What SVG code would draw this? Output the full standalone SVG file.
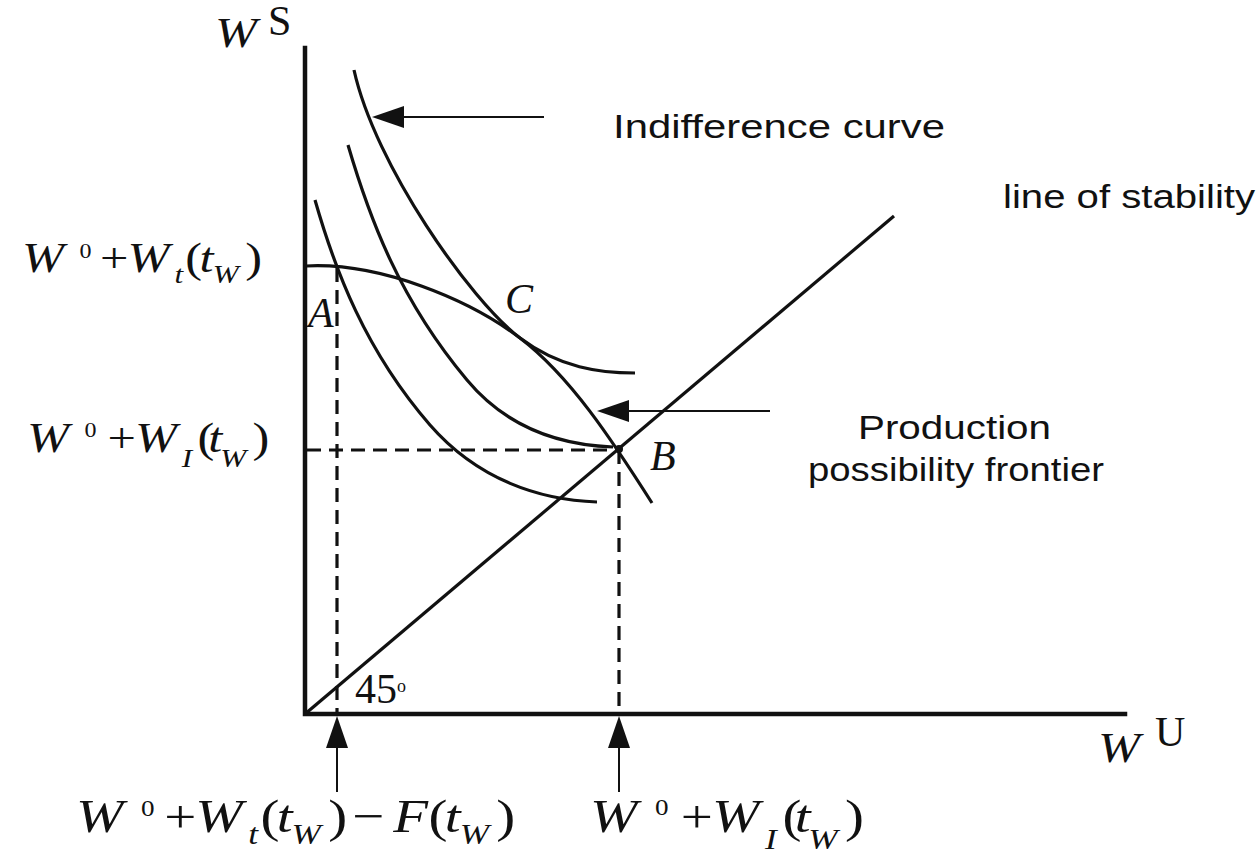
<svg xmlns="http://www.w3.org/2000/svg" width="1260" height="853" viewBox="0 0 1260 853">
<style>
.m{font-family:"Liberation Serif","Times New Roman",serif;font-size:42px;fill:#111}
.i{font-style:italic}
.sup{font-size:20px}
.sub{font-size:26px}
.s{font-family:"Liberation Sans",Arial,sans-serif;font-size:33px;fill:#111}
.ax{stroke:#111;stroke-width:4.5;fill:none;stroke-linecap:square}
.cv{stroke:#111;stroke-width:3.2;fill:none}
.ds{stroke:#111;stroke-width:3.2;fill:none;stroke-dasharray:14 8}
.ar{stroke:#111;stroke-width:2;fill:none}
</style>
<defs>
<marker id="ah" viewBox="0 0 32 22" refX="0" refY="11" markerWidth="32" markerHeight="22" markerUnits="userSpaceOnUse" orient="auto">
<path d="M0,0 L32,11 L0,22 z" fill="#111"/>
</marker>
</defs>
<rect width="1260" height="853" fill="#fff"/>
<g id="axes">
<path class="ax" d="M305,48 L305,714 L1125,714"/>
</g>
<g id="curves">
<path id="ic3" class="cv" d="M354,70 C375,165 470,300 520,338 C560,368 600,373 635,373"/>
<path id="ic2" class="cv" d="M348,145 C370,220 400,300 467,380 C507,428 560,445 613,447"/>
<path id="ic1" class="cv" d="M315,200 C335,270 365,350 430,425 C478,480 540,500 597,502"/>
<path id="ppf" class="cv" d="M306,266 C380,262 470,300 520,338 C570,376 612,440 652,503"/>
<path id="stability" class="cv" d="M305,714 L894,216"/>
</g>
<g id="connectors">
<path class="ds" d="M337,268 L337,712"/>
<path class="ds" d="M307,450 L619,450"/>
<path class="ds" d="M619,450 L619,712"/>
<circle cx="619" cy="449" r="4" fill="#111"/>
<path class="ar" d="M544,117 L404,117" marker-end="url(#ah)"/>
<path class="ar" d="M770,411 L629,411" marker-end="url(#ah)"/>
<path class="ar" d="M337,792 L337,748" marker-end="url(#ah)"/>
<path class="ar" d="M619,792 L619,748" marker-end="url(#ah)"/>
</g>
<g id="axis-labels">
<g transform="translate(215,47) scale(1.2,1)"><text class="m i" x="0" y="0">W</text></g>
<text class="m" x="268" y="35" font-size="27">S</text>
<g transform="translate(1098,762) scale(1.2,1)"><text class="m i" x="0" y="0">W</text></g>
<text class="m" x="1155" y="746" font-size="27">U</text>
</g>
<g id="label-wt">
<g transform="translate(22,272) scale(1.2,1)">
<text class="m"><tspan class="i" x="0" y="0">W</tspan><tspan class="sup" x="48" y="-14">0</tspan><tspan x="65" y="0">+</tspan><tspan class="i" x="88" y="0">W</tspan><tspan class="i sub" x="127" y="11">t</tspan><tspan x="136" y="0">(</tspan><tspan class="i" x="148" y="0">t</tspan><tspan class="i sub" x="159" y="11">W</tspan><tspan x="186" y="0">)</tspan></text>
</g>
</g>
<g id="label-wi">
<g transform="translate(27,452) scale(1.2,1)">
<text class="m"><tspan class="i" x="0" y="0">W</tspan><tspan class="sup" x="48" y="-15">0</tspan><tspan x="67" y="0">+</tspan><tspan class="i" x="90" y="0">W</tspan><tspan class="i sub" x="129" y="15">I</tspan><tspan x="142" y="0">(</tspan><tspan class="i" x="151" y="0">t</tspan><tspan class="i sub" x="161" y="15">W</tspan><tspan x="188" y="0">)</tspan></text>
</g>
</g>
<g id="label-bottom-left">
<g transform="translate(76,832) scale(1.356,1.13)">
<text class="m"><tspan class="i" x="0" y="0">W</tspan><tspan class="sup" x="48" y="-14">0</tspan><tspan x="65" y="0">+</tspan><tspan class="i" x="88" y="0">W</tspan><tspan class="i sub" x="127" y="11">t</tspan><tspan x="136" y="0">(</tspan><tspan class="i" x="148" y="0">t</tspan><tspan class="i sub" x="159" y="11">W</tspan><tspan x="186" y="0">)</tspan><tspan x="204" y="0">−</tspan><tspan class="i" x="234" y="0">F</tspan><tspan x="260" y="0">(</tspan><tspan class="i" x="272" y="0">t</tspan><tspan class="i sub" x="283" y="11">W</tspan><tspan x="310" y="0">)</tspan></text>
</g>
</g>
<g id="label-bottom-right">
<g transform="translate(590,832) scale(1.356,1.13)">
<text class="m"><tspan class="i" x="0" y="0">W</tspan><tspan class="sup" x="48" y="-15">0</tspan><tspan x="67" y="0">+</tspan><tspan class="i" x="90" y="0">W</tspan><tspan class="i sub" x="129" y="15">I</tspan><tspan x="142" y="0">(</tspan><tspan class="i" x="151" y="0">t</tspan><tspan class="i sub" x="161" y="15">W</tspan><tspan x="188" y="0">)</tspan></text>
</g>
</g>
<g id="points">
<text class="m i" x="308" y="327" font-size="36">A</text>
<text class="m i" x="505" y="313" font-size="42">C</text>
<text class="m i" x="650" y="470" font-size="36">B</text>
<text class="m" x="355" y="703" font-size="30">45<tspan font-size="18" dy="-11">o</tspan></text>
</g>
<g id="notes">
<text class="s" x="613" y="138" textLength="332" lengthAdjust="spacingAndGlyphs">Indifference curve</text>
<text class="s" x="1003" y="208" textLength="252" lengthAdjust="spacingAndGlyphs">line of stability</text>
<text class="s" x="858" y="439" textLength="193" lengthAdjust="spacingAndGlyphs">Production</text>
<text class="s" x="808" y="481" textLength="296" lengthAdjust="spacingAndGlyphs">possibility frontier</text>
</g>
</svg>
